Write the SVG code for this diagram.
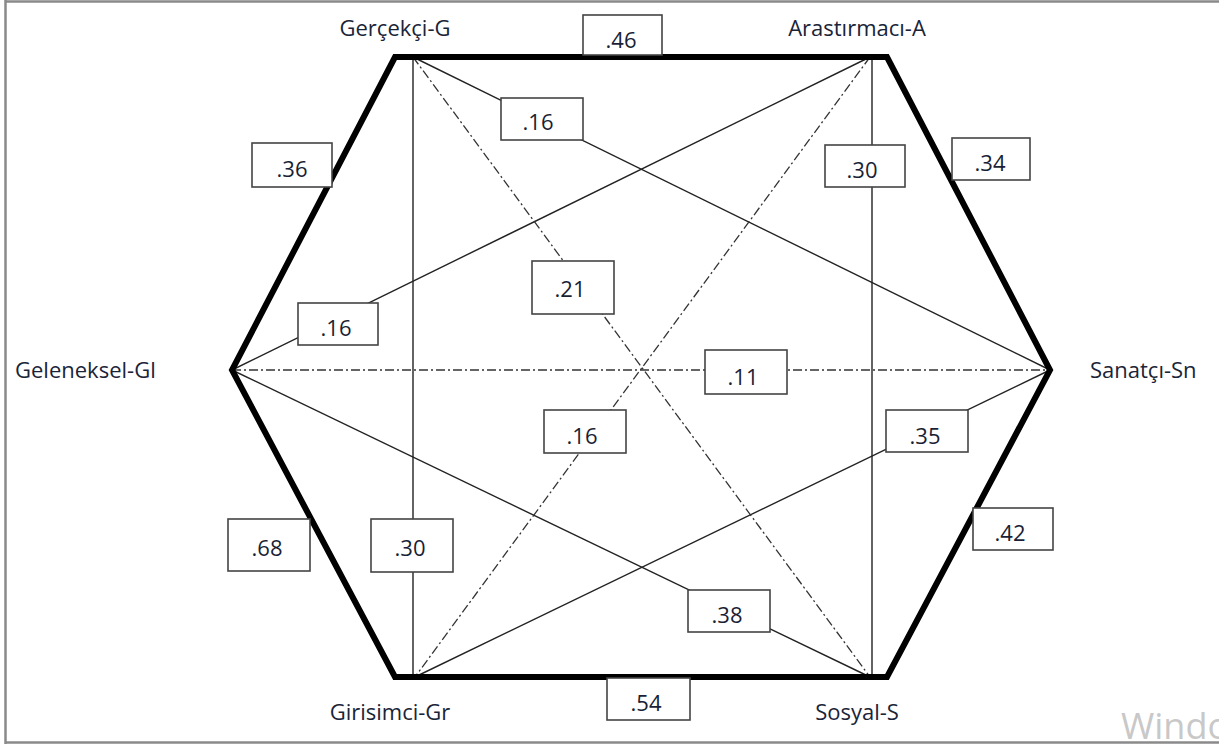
<svg xmlns="http://www.w3.org/2000/svg" width="1219" height="744" viewBox="0 0 1219 744">
<style>
.frame{stroke:#8a8a8a;stroke-width:2.5;fill:none}
.hex{fill:none;stroke:#000;stroke-width:6;stroke-linejoin:miter}
.sol{stroke:#222;stroke-width:1.4;fill:none}
.dd{stroke:#333;stroke-width:1.3;fill:none;stroke-dasharray:9 3 2 3}
.box{fill:#fff;stroke:#444;stroke-width:1.6}
.num{font-family:"Open Sans","Liberation Sans",sans-serif;font-size:22px;fill:#1a1f36;text-anchor:middle}
.lbl{font-family:"Open Sans","Liberation Sans",sans-serif;font-size:22px;fill:#1a2438}
.wm{font-family:"Open Sans","Liberation Sans",sans-serif;font-size:36px;fill:#c8c8c8}
</style>
<rect width="1219" height="744" fill="#fff"/>
<g id="frame">
<line class="frame" x1="5" y1="1.5" x2="1219" y2="1.5"/>
<line class="frame" x1="5.5" y1="0" x2="5.5" y2="744"/>
<line class="frame" x1="5" y1="742.5" x2="1219" y2="742.5"/>
</g>
<g id="connectors">
<line class="sol" x1="413" y1="57" x2="413" y2="677"/>
<line class="sol" x1="872" y1="57" x2="872" y2="677"/>
<line class="sol" x1="413" y1="57" x2="1050" y2="370"/>
<line class="sol" x1="870" y1="57" x2="232" y2="370"/>
<line class="sol" x1="232" y1="370" x2="870" y2="677"/>
<line class="sol" x1="415" y1="677" x2="1050" y2="370"/>
<line class="dd" x1="232" y1="370" x2="1050" y2="370"/>
<line class="dd" x1="413" y1="57" x2="870" y2="677"/>
<line class="dd" x1="870" y1="57" x2="415" y2="677"/>
</g>
<g id="hexagon">
<polygon class="hex" points="395,57 887,57 1050,370 887,677 395,677 232,370"/>
</g>
<g id="node-G"><text class="lbl" x="395" y="36" text-anchor="middle">Gerçekçi-G</text></g>
<g id="node-A"><text class="lbl" x="857" y="36" text-anchor="middle">Arastırmacı-A</text></g>
<g id="node-Gl"><text class="lbl" x="15" y="378">Geleneksel-Gl</text></g>
<g id="node-Sn"><text class="lbl" x="1090" y="378">Sanatçı-Sn</text></g>
<g id="node-Gr"><text class="lbl" x="390" y="720" text-anchor="middle">Girisimci-Gr</text></g>
<g id="node-S"><text class="lbl" x="857" y="720" text-anchor="middle">Sosyal-S</text></g>
<g id="labels">
<g id="l-46"><rect class="box" x="583" y="15" width="79" height="40"/><text class="num" x="621" y="48">.46</text></g>
<g id="l-36"><rect class="box" x="252" y="143" width="80" height="44"/><text class="num" x="292" y="177">.36</text></g>
<g id="l-34"><rect class="box" x="952" y="138" width="78" height="42"/><text class="num" x="990" y="171">.34</text></g>
<g id="l-68"><rect class="box" x="228" y="519" width="82" height="52"/><text class="num" x="267" y="556">.68</text></g>
<g id="l-42"><rect class="box" x="973" y="508" width="80" height="42"/><text class="num" x="1010" y="541">.42</text></g>
<g id="l-54"><rect class="box" x="607" y="678" width="83" height="42"/><text class="num" x="646" y="711">.54</text></g>
<g id="l-16a"><rect class="box" x="501" y="98" width="82" height="42"/><text class="num" x="538" y="130">.16</text></g>
<g id="l-30a"><rect class="box" x="825" y="145" width="80" height="42"/><text class="num" x="862" y="178">.30</text></g>
<g id="l-16b"><rect class="box" x="298" y="303" width="80" height="42"/><text class="num" x="336" y="336">.16</text></g>
<g id="l-21"><rect class="box" x="532" y="261" width="82" height="53"/><text class="num" x="570" y="297">.21</text></g>
<g id="l-11"><rect class="box" x="705" y="350" width="82" height="44"/><text class="num" x="743" y="385">.11</text></g>
<g id="l-16c"><rect class="box" x="544" y="410" width="82" height="43"/><text class="num" x="582" y="444">.16</text></g>
<g id="l-35"><rect class="box" x="886" y="410" width="82" height="42"/><text class="num" x="925" y="444">.35</text></g>
<g id="l-30b"><rect class="box" x="371" y="519" width="82" height="53"/><text class="num" x="410" y="556">.30</text></g>
<g id="l-38"><rect class="box" x="688" y="590" width="82" height="42"/><text class="num" x="727" y="623">.38</text></g>
</g>
<text class="wm" x="1121" y="739">Windo</text>
</svg>
